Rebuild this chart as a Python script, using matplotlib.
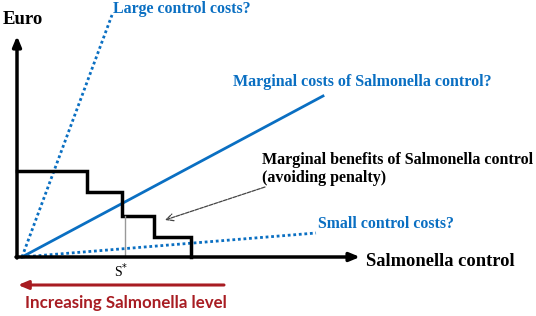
import matplotlib
matplotlib.use("Agg")
import matplotlib.pyplot as plt

W, H = 536, 316
BLUE = "#0a6fc2"
RED = "#a81c22"

# Step function: marginal benefits (pixel-space coordinates of the sketch)
step_x = [17, 87, 87, 122, 122, 154, 154, 191, 191]
step_y = [171, 171, 192, 192, 216, 216, 237, 237, 257]

origin = (22, 257)
marginal_cost_end = (323, 96)
large_cost_end = (112, 15)
small_cost_end = (316, 233)

s_star_x = 125
s_star_top = 216

labels = {
    "euro": "Euro",
    "xaxis": "Salmonella control",
    "large": "Large control costs?",
    "marginal": "Marginal costs of Salmonella control?",
    "small": "Small control costs?",
    "benefit1": "Marginal benefits of Salmonella control",
    "benefit2": "(avoiding penalty)",
    "sstar": "S$^{*}$",
    "level": "Increasing Salmonella level",
}

fig = plt.figure(figsize=(W / 100, H / 100), dpi=100)
ax = fig.add_axes([0, 0, 1, 1])
ax.set_xlim(0, W)
ax.set_ylim(H, 0)
ax.axis("off")

serif = ["Liberation Serif", "DejaVu Serif"]

# axes arrows
ax.annotate("", xy=(17, 36), xytext=(17, 258),
            arrowprops=dict(arrowstyle="-|>,head_length=0.6,head_width=0.25", color="black", lw=2.5, shrinkA=0, shrinkB=0))
ax.annotate("", xy=(360, 257), xytext=(16, 257),
            arrowprops=dict(arrowstyle="-|>,head_length=0.6,head_width=0.25", color="black", lw=2.5, shrinkA=0, shrinkB=0))

# lines
ax.plot([origin[0], marginal_cost_end[0]], [origin[1], marginal_cost_end[1]], color=BLUE, lw=2)
ax.plot([origin[0], large_cost_end[0]], [origin[1], large_cost_end[1]], color=BLUE, lw=2, linestyle=(0, (1, 1)))
ax.plot([origin[0], small_cost_end[0]], [origin[1], small_cost_end[1]], color=BLUE, lw=2, linestyle=(0, (1, 1)))

# step
ax.plot(step_x, step_y, color="black", lw=2.5, solid_joinstyle="miter")
ax.plot([s_star_x, s_star_x], [s_star_top, 257], color="#999999", lw=1)

# dashed pointer arrow
ax.annotate("", xy=(165, 220), xytext=(265, 187),
            arrowprops=dict(arrowstyle="->,head_length=0.5,head_width=0.25", color="#444444", lw=0.9,
                            linestyle=(0, (3, 1)), shrinkA=0, shrinkB=0))

# red arrow
ax.annotate("", xy=(18, 285), xytext=(224, 285),
            arrowprops=dict(arrowstyle="-|>,head_length=0.6,head_width=0.25", color=RED, lw=2.2, shrinkA=0, shrinkB=0))

# texts
ax.text(3, 20, labels["euro"], fontsize=13.5, fontweight="bold", family=serif, va="center", ha="left")
ax.text(366, 261, labels["xaxis"], fontsize=13.3, fontweight="bold", family=serif, va="center", ha="left")
ax.text(113, 9, labels["large"], fontsize=11.4, fontweight="bold", family=serif, va="center", ha="left", color=BLUE)
ax.text(233, 82, labels["marginal"], fontsize=11.5, fontweight="bold", family=serif, va="center", ha="left", color=BLUE)
ax.text(318, 224, labels["small"], fontsize=11.4, fontweight="bold", family=serif, va="center", ha="left", color=BLUE)
ax.text(262, 160, labels["benefit1"], fontsize=11.5, fontweight="bold", family=serif, va="center", ha="left")
ax.text(262, 178, labels["benefit2"], fontsize=11.5, fontweight="bold", family=serif, va="center", ha="left")
ax.text(s_star_x - 4, 271, labels["sstar"], fontsize=10, family=serif, va="center", ha="center")
ax.text(25, 303, labels["level"], fontsize=12.2, fontweight="bold", family=["Lato", "DejaVu Sans"], va="center", ha="left", color=RED)

fig.savefig("out.png", dpi=100)
